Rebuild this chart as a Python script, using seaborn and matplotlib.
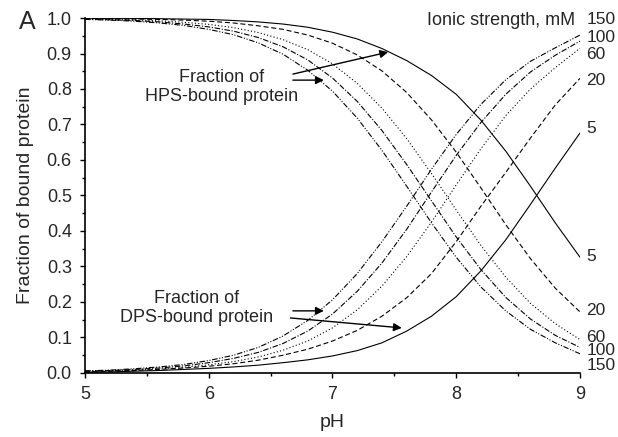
import matplotlib
matplotlib.use("Agg")
import matplotlib.pyplot as plt
import seaborn as sns
import pandas as pd
from matplotlib.ticker import MultipleLocator, FormatStrFormatter

# ---- data ----
ph = [5.0, 5.2, 5.4, 5.6, 5.8, 6.0, 6.2, 6.4, 6.6, 6.8, 7.0,
      7.2, 7.4, 7.6, 7.8, 8.0, 8.2, 8.4, 8.6, 8.8, 9.0]
ionic_strengths = ["5", "20", "60", "100", "150"]

# fraction of HPS-bound protein
hps_5 = [0.9995, 0.999, 0.999, 0.998, 0.997, 0.996, 0.993, 0.989, 0.983, 0.974, 0.960,
         0.941, 0.914, 0.880, 0.838, 0.785, 0.712, 0.625, 0.526, 0.423, 0.326]
hps_20 = [0.999, 0.998, 0.997, 0.996, 0.994, 0.991, 0.986, 0.978, 0.968, 0.952, 0.929,
          0.896, 0.851, 0.790, 0.713, 0.622, 0.521, 0.418, 0.322, 0.239, 0.172]
hps_60 = [0.998, 0.996, 0.995, 0.992, 0.988, 0.982, 0.973, 0.959, 0.939, 0.911, 0.871,
          0.816, 0.746, 0.660, 0.562, 0.459, 0.359, 0.270, 0.196, 0.139, 0.094]
hps_100 = [0.997, 0.995, 0.993, 0.989, 0.983, 0.975, 0.963, 0.945, 0.919, 0.882, 0.831,
           0.765, 0.683, 0.587, 0.485, 0.383, 0.291, 0.213, 0.152, 0.106, 0.072]
hps_150 = [0.996, 0.994, 0.991, 0.986, 0.979, 0.968, 0.953, 0.930, 0.898, 0.853, 0.794,
           0.718, 0.627, 0.526, 0.423, 0.326, 0.242, 0.175, 0.123, 0.085, 0.054]

# fraction of DPS-bound protein
dps_5 = [0.002, 0.003, 0.005, 0.007, 0.010, 0.013, 0.017, 0.022, 0.029, 0.037, 0.048,
         0.063, 0.085, 0.118, 0.160, 0.215, 0.288, 0.375, 0.475, 0.577, 0.676]
dps_20 = [0.003, 0.005, 0.007, 0.010, 0.014, 0.019, 0.026, 0.036, 0.050, 0.067, 0.090,
          0.120, 0.160, 0.212, 0.280, 0.370, 0.470, 0.565, 0.662, 0.755, 0.830]
dps_60 = [0.004, 0.006, 0.008, 0.011, 0.016, 0.023, 0.032, 0.045, 0.064, 0.090, 0.127,
          0.178, 0.245, 0.328, 0.425, 0.530, 0.632, 0.725, 0.800, 0.860, 0.915]
dps_100 = [0.005, 0.007, 0.010, 0.014, 0.020, 0.029, 0.041, 0.058, 0.083, 0.118, 0.166,
           0.230, 0.310, 0.405, 0.510, 0.613, 0.706, 0.785, 0.848, 0.895, 0.935]
dps_150 = [0.006, 0.008, 0.012, 0.017, 0.024, 0.035, 0.050, 0.072, 0.104, 0.148, 0.206,
           0.280, 0.370, 0.470, 0.574, 0.672, 0.757, 0.826, 0.878, 0.916, 0.952]

hps = [hps_5, hps_20, hps_60, hps_100, hps_150]
dps = [dps_5, dps_20, dps_60, dps_100, dps_150]

# right-hand label positions (data units)
top_label_y = [0.69, 0.825, 0.896, 0.946, 0.997]
bottom_label_y = [0.327, 0.177, 0.101, 0.062, 0.022]

# ---- styling ----
sns.set_style("ticks")
plt.rcParams["font.family"] = ["Liberation Sans", "DejaVu Sans"]

line_styles = {
    "5": "-",
    "20": (0, (4.5, 2.5)),
    "60": (0, (1, 2)),
    "100": (0, (5, 1.5, 1, 1.5)),
    "150": (0, (5, 1.5, 1, 1.5, 1, 1.5)),
}

fig = plt.figure(figsize=(6.18, 4.37), dpi=100)
ax = fig.add_axes([0.1375, 0.1465, 0.801, 0.8123])

for name, h, d in zip(ionic_strengths, hps, dps):
    df = pd.DataFrame({"pH": ph, "HPS": h, "DPS": d})
    sns.lineplot(data=df, x="pH", y="HPS", ax=ax, color="black",
                 linewidth=0.8, linestyle=line_styles[name], legend=False)
    sns.lineplot(data=df, x="pH", y="DPS", ax=ax, color="black",
                 linewidth=0.8, linestyle=line_styles[name], legend=False)

ax.set_xlim(5, 9)
ax.set_ylim(0, 1.0)
ax.xaxis.set_major_locator(MultipleLocator(1))
ax.xaxis.set_minor_locator(MultipleLocator(0.5))
ax.yaxis.set_major_locator(MultipleLocator(0.1))
ax.yaxis.set_minor_locator(MultipleLocator(0.05))
ax.yaxis.set_major_formatter(FormatStrFormatter("%.1f"))
ax.tick_params(which="major", direction="out", length=3.5, width=1.0,
               labelsize=13, pad=6, color="black")
ax.tick_params(which="minor", direction="out", length=2.2, width=1.0, color="black")
sns.despine(ax=ax)
for s in ("left", "bottom"):
    ax.spines[s].set_linewidth(1.2)
    ax.spines[s].set_color("black")

ax.set_xlabel("pH", fontsize=14)
ax.set_ylabel("Fraction of bound protein", fontsize=14)
ax.xaxis.set_label_coords(0.5, -0.115)
ax.yaxis.set_label_coords(-0.103, 0.5)

fig.text(0.044, 0.95, "A", fontsize=18, ha="center", va="center")

# annotations
ax.text(6.1, 0.806, "Fraction of\nHPS-bound protein", fontsize=13,
        ha="center", va="center", linespacing=1.2)
ax.text(5.905, 0.183, "Fraction of\nDPS-bound protein", fontsize=13,
        ha="center", va="center", linespacing=1.2)
arrow = dict(arrowstyle="-|>", color="black", lw=1.0, mutation_scale=12,
             shrinkA=0, shrinkB=0)
ax.annotate("", xy=(7.45, 0.904), xytext=(6.68, 0.842), arrowprops=arrow)
ax.annotate("", xy=(6.93, 0.825), xytext=(6.68, 0.825), arrowprops=arrow)
ax.annotate("", xy=(6.93, 0.175), xytext=(6.68, 0.175), arrowprops=arrow)
ax.annotate("", xy=(7.56, 0.127), xytext=(6.66, 0.155), arrowprops=arrow)

# right-hand labels
ax.text(8.96, 0.992, "Ionic strength, mM", fontsize=13, ha="right", va="center")
for name, yt, yb in zip(ionic_strengths, top_label_y, bottom_label_y):
    ax.text(9.05, yt, name, fontsize=12.5, ha="left", va="center", clip_on=False)
    ax.text(9.05, yb, name, fontsize=12.5, ha="left", va="center", clip_on=False)

fig.savefig("out.png", dpi=100)
